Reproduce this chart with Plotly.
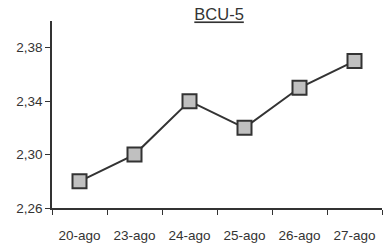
import plotly.graph_objects as go

categories = ["20-ago", "23-ago", "24-ago", "25-ago", "26-ago", "27-ago"]
values = [2.28, 2.30, 2.34, 2.32, 2.35, 2.37]
title_text = "BCU-5"

fig = go.Figure(go.Scatter(
    x=categories, y=values, mode="lines+markers",
    line=dict(color="#333333", width=2),
    marker=dict(symbol="square", size=14, color="#c0c0c0",
                line=dict(color="#333333", width=2)),
))

fig.update_layout(
    width=383, height=244,
    margin=dict(l=52, r=1, t=21, b=34),
    paper_bgcolor="white", plot_bgcolor="white",
    separators=",.",
    showlegend=False,
    font=dict(family="Liberation Sans, Arial, sans-serif", size=13.5, color="#333333"),
    title=dict(text="<u>" + title_text + "</u>", x=0.572, xanchor="center",
               y=0.94, yanchor="middle", font=dict(size=16.5, color="#333333")),
)
fig.update_xaxes(
    type="category", tickson="boundaries", showline=True, linecolor="#333333",
    linewidth=1.5, ticks="outside", ticklen=5, tickcolor="#333333",
    showgrid=False, zeroline=False, range=[-0.5, 5.5], ticklabelstandoff=14,
)
fig.update_yaxes(
    range=[2.26, 2.40], tick0=2.26, dtick=0.04, tickformat=".2f",
    showline=True, linecolor="#333333", linewidth=1.5, ticks="outside",
    ticklen=5, tickcolor="#333333", showgrid=False, zeroline=False,
)
fig.write_html("out.html", config={"displayModeBar": False},
               post_script="document.body.style.margin='0';")
